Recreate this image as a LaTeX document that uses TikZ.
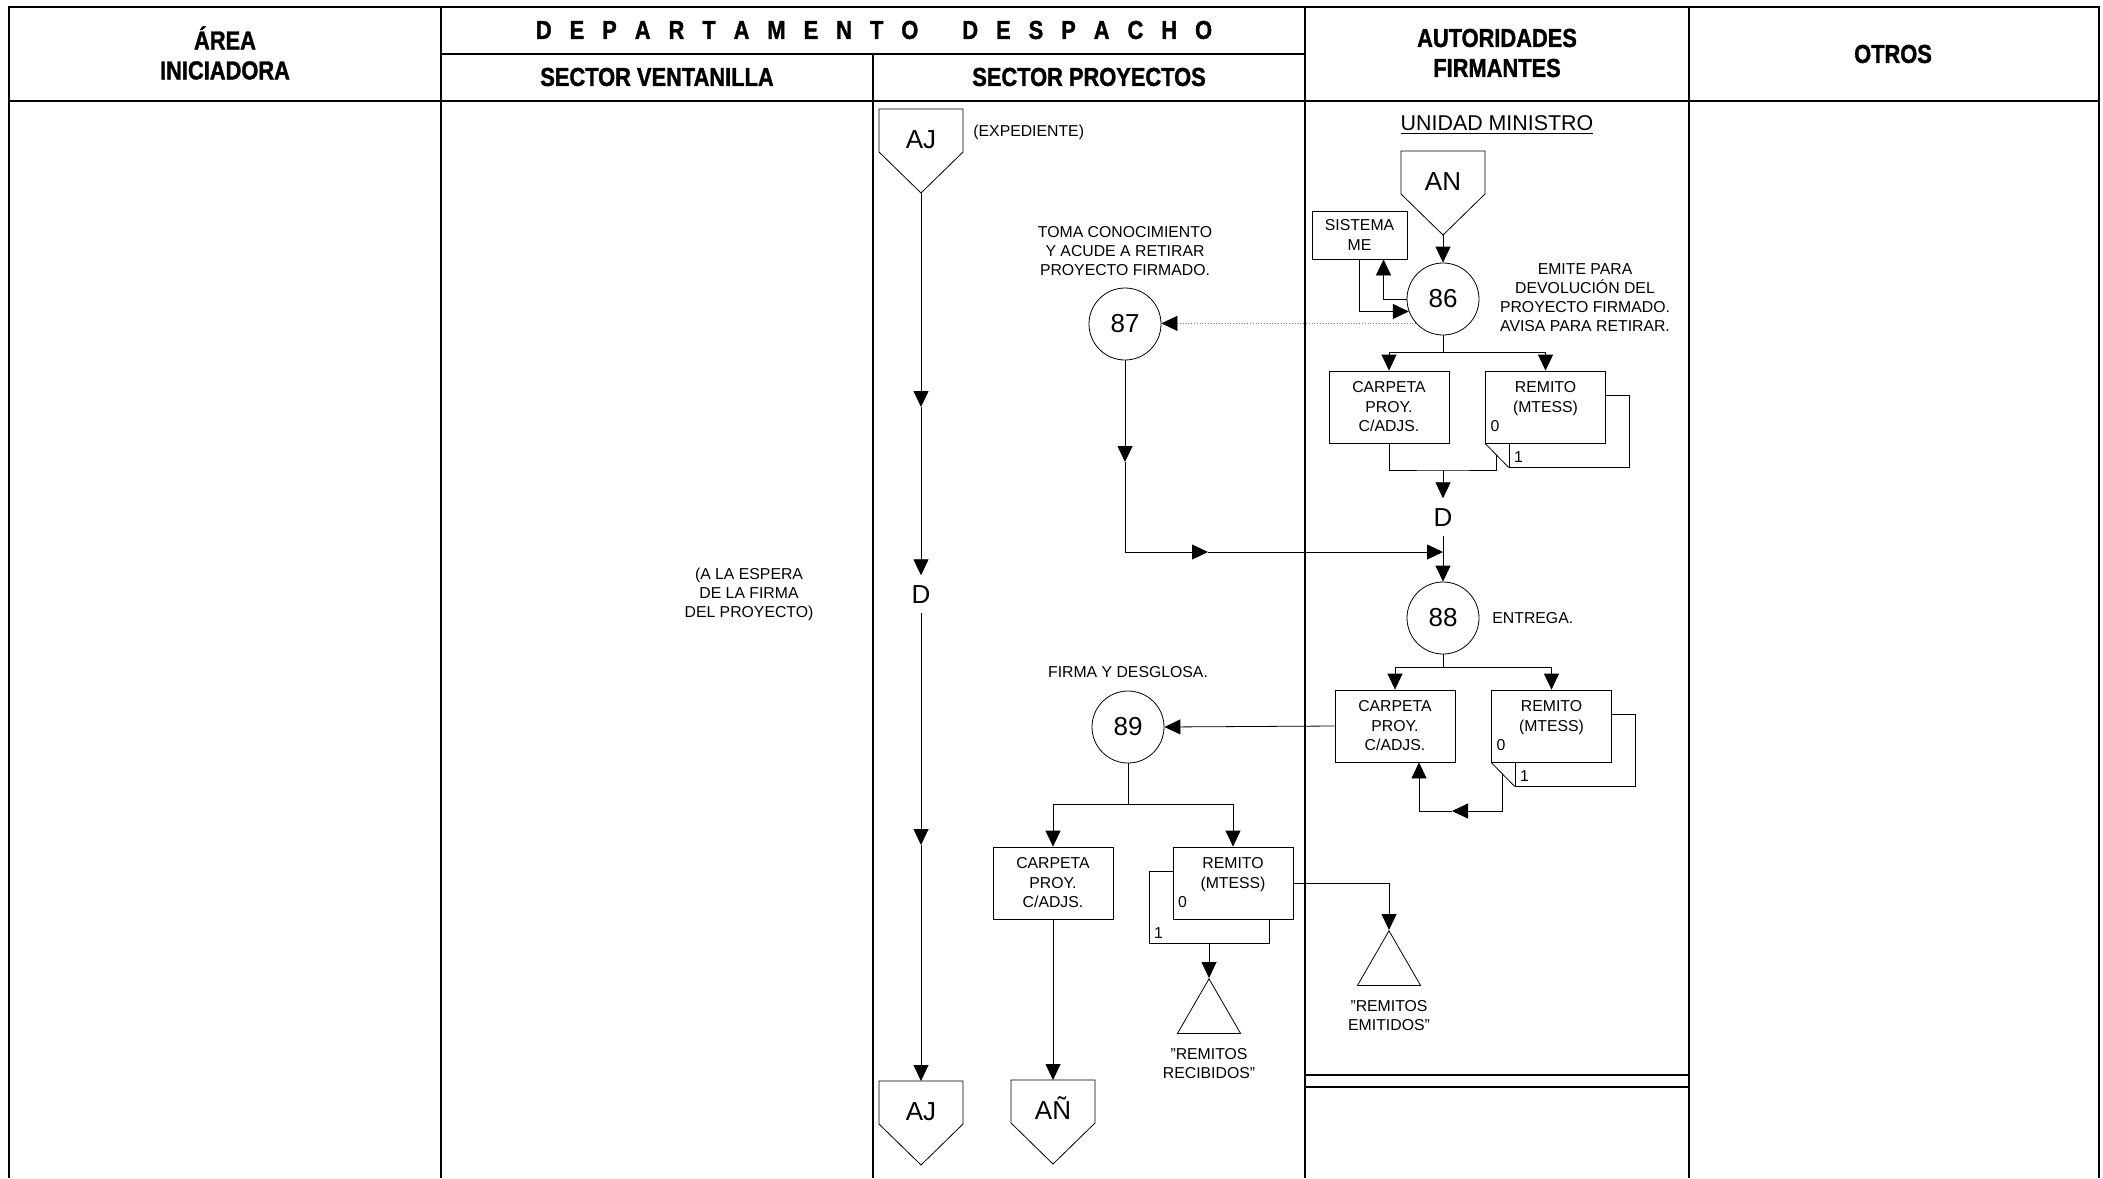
\documentclass[tikz,border=0pt]{standalone}
\usepackage{fontspec}
\setmainfont{Liberation Sans}
\newfontfamily\hdrfont[FakeStretch=0.84,BoldFeatures={FakeBold=1.3}]{Liberation Sans}
\usetikzlibrary{arrows.meta,shapes.geometric,calc}

\tikzset{
  flow/.style={-{Triangle[length=8pt,width=7.5pt]}},
  dotflow/.style={-{Triangle[length=8pt,width=7.5pt,color=black]},densely dotted,draw=gray},
  proc/.style={circle,draw,minimum size=36pt,inner sep=0pt,font=\fontsize{13}{15}\selectfont},
  doc/.style={draw,fill=white,minimum width=60pt,minimum height=36pt,inner sep=0pt,align=center,font=\fontsize{7.9}{9.75}\selectfont},
  note/.style={align=center,inner sep=0pt,font=\fontsize{7.9}{9.5}\selectfont},
  tag/.style={inner sep=0pt,font=\fontsize{7.9}{9.5}\selectfont},
  conn/.style={inner sep=4.5pt,text height=9.3pt,text depth=0pt,font=\fontsize{13}{15}\selectfont},
  arch/.style={regular polygon,regular polygon sides=3,draw,minimum size=36.4pt,inner sep=0pt},
  hdr/.style={align=center,font=\hdrfont\bfseries\fontsize{13}{15}\selectfont},
  lane/.style={line width=0.7pt},
  frame/.style={line width=1pt}
}

\newcommand{\offpage}[3]{%
  \node[inner sep=0pt,text height=9.3pt,text depth=0pt,font=\fontsize{13}{15}\selectfont] (#1) at (#2) {#3};
  \draw ([shift={(-42,-30)}]#1.center) -- ++(84,0) -- ++(0,43) -- ++(-42,41) -- ++(-42,-41) -- cycle;
  \coordinate (#1-top) at ([shift={(0,-30)}]#1.center);
  \coordinate (#1-tip) at ([shift={(0,54)}]#1.center);
}

\begin{document}
\begin{tikzpicture}[x=0.5pt,y=-0.5pt]
\useasboundingbox (0,0) rectangle (2103,1178);

\draw[frame] (9,1178) -- (9,7) -- (2099,7) -- (2099,1178);
\draw[frame] (9,101) -- (2099,101);
\draw[lane] (441,54) -- (1305,54);
\draw[lane] (441,7) -- (441,1178);
\draw[lane] (873,54) -- (873,1178);
\draw[lane] (1305,7) -- (1305,1178);
\draw[lane] (1689,7) -- (1689,1178);
\draw[lane] (1305,1075) -- (1689,1075);
\draw[lane] (1305,1087) -- (1689,1087);

\node[hdr] (harea) at (225,53) {ÁREA\\INICIADORA};
\node[hdr] (hdep) at (874,30) {\spaceskip=9pt D E P A R T A M E N T O\hspace{22pt}D E S P A C H O};
\node[hdr] (hven) at (657,77) {SECTOR VENTANILLA};
\node[hdr] (hpro) at (1089,77) {SECTOR PROYECTOS};
\node[hdr] (haut) at (1497,53) {AUTORIDADES\\FIRMANTES};
\node[hdr] (hotr) at (1893,54) {OTROS};

\offpage{aj1}{921,139}{AJ}
\node[tag,anchor=west] (exp) at (973,132) {(EXPEDIENTE)};
\node[inner sep=0pt,font=\fontsize{10.7}{13}\selectfont] (umin) at (1497,125) {\underline{UNIDAD MINISTRO}};
\offpage{an1}{1443,181}{AN}

\node[doc,minimum width=47.5pt,minimum height=24pt] (sis) at (1359.5,235) {SISTEMA\\ME};
\node[proc] (c86) at (1443,299) {86};
\node[note] (t86) at (1585,298) {EMITE PARA\\DEVOLUCIÓN DEL\\PROYECTO FIRMADO.\\AVISA PARA RETIRAR.};
\node[proc] (c87) at (1125,324) {87};
\node[note] (t87) at (1125,251) {TOMA CONOCIMIENTO\\Y ACUDE A RETIRAR\\PROYECTO FIRMADO.};

\node[doc] (carp1) at (1389,407) {CARPETA\\PROY.\\C/ADJS.};
\node[doc] (rem1b) at (1569,431) {};
\node[doc] (rem1) at (1545.5,407) {REMITO\\(MTESS)\\\phantom{0}};
\node[tag,anchor=base west] (r1z) at ([shift={(5,-12)}]rem1.south west) {0};
\node[tag,anchor=base west] (r1o) at ([shift={(5,-5)}]rem1b.south west) {1};
\draw (rem1.south west) -- (rem1b.south west);
\coordinate (f1) at ($(rem1.south west)!0.5!(rem1b.south west)$);

\node[conn] (d2) at (1443,517) {D};
\node[proc] (c88) at (1443,618) {88};
\node[tag,anchor=west] (t88) at (1492,618) {ENTREGA.};

\node[doc] (carp2) at (1395,726) {CARPETA\\PROY.\\C/ADJS.};
\node[doc] (rem2b) at (1575,750) {};
\node[doc] (rem2) at (1551.5,726) {REMITO\\(MTESS)\\\phantom{0}};
\node[tag,anchor=base west] (r2z) at ([shift={(5,-12)}]rem2.south west) {0};
\node[tag,anchor=base west] (r2o) at ([shift={(5,-5)}]rem2b.south west) {1};
\draw (rem2.south west) -- (rem2b.south west);
\coordinate (f2) at ($(rem2.south west)!0.5!(rem2b.south west)$);

\node[proc] (c89) at (1128,727) {89};
\node[tag] (t89) at (1128,672) {FIRMA Y DESGLOSA.};

\node[conn] (d1) at (921,594) {D};
\node[note] (tesp) at (749,594) {(A LA ESPERA\\DE LA FIRMA\\DEL PROYECTO)};

\node[doc] (carp3) at (1053,883) {CARPETA\\PROY.\\C/ADJS.};
\node[doc] (rem3b) at (1209,907) {};
\node[doc] (rem3) at (1233,883) {REMITO\\(MTESS)\\\phantom{0}};
\node[tag,anchor=base west] (r3z) at ([shift={(5,-12)}]rem3.south west) {0};
\node[tag,anchor=base west] (r3o) at ([shift={(5,-5)}]rem3b.south west) {1};

\node[arch,anchor=corner 1] (tri1) at (1209,978) {};
\node[note] (ttri1) at (1209,1064) {"REMITOS\\RECIBIDOS"};
\node[arch,anchor=corner 1] (tri2) at (1389,930) {};
\node[note] (ttri2) at (1389,1016) {"REMITOS\\EMITIDOS"};

\offpage{aj2}{921,1111}{AJ}
\offpage{an2}{1053,1110}{AÑ}

\coordinate (m1) at (921,407);
\coordinate (m5) at (921,845);
\draw[flow] (aj1-tip) -- (m1);
\draw[flow] (m1) -- (d1.north);
\draw[flow] (d1.south) -- (m5);
\draw[flow] (m5) -- (aj2-top);

\draw[flow] (an1-tip) -- (c86.north);
\draw[flow] (sis.south) |- (c86.200);
\draw[flow] (c86.west) -| ([xshift=12pt]sis.south);
\draw[dotflow] (c86.222) -- (c86.222 -| c87.east);

\draw (c86.south) -- ++(0,17) coordinate (s1);
\draw[flow] (s1) -| (carp1.north);
\draw[flow] (s1) -| (rem1.north);
\coordinate (j1) at (1443,470);
\draw (carp1.south) |- (j1) -| (f1);
\draw[flow] (j1) -- (d2.north);
\draw[flow] (d2.south) -- (c88.north);

\coordinate (m2) at (1125,462);
\coordinate (m3) at (1208,552);
\coordinate (j2) at (1443,552);
\draw[flow] (c87.south) -- (m2);
\draw[flow] (m2) |- (m3);
\draw[flow] (m3) -- (j2);

\draw (c88.south) -- ++(0,13) coordinate (s2);
\draw[flow] (s2) -| (carp2.north);
\draw[flow] (s2) -| (rem2.north);
\coordinate (m4) at (1452,811);
\draw[flow] (f2) |- (m4);
\draw[flow] (m4) -| ([xshift=12pt]carp2.south);
\draw[flow] (carp2.west) -- (c89.east);

\draw (c89.south) -- ++(0,41) coordinate (s3);
\draw[flow] (s3) -| (carp3.north);
\draw[flow] (s3) -| (rem3.north);
\draw[flow] (carp3.south) -- (an2-top);
\draw[flow] (rem3b.south) -- (tri1.corner 1);
\draw[flow] (rem3.east) -| (tri2.corner 1);
\end{tikzpicture}
\end{document}
